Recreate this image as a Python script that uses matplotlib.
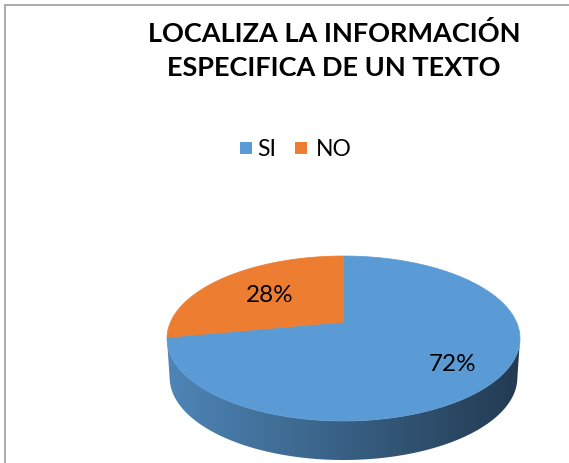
import numpy as np
import matplotlib
matplotlib.use('Agg')
import matplotlib.pyplot as plt
from matplotlib.patches import Polygon, Rectangle
from matplotlib.colors import to_rgb

# data
labels = ['SI', 'NO']
values = [72, 28]
colors = ['#5B9BD5', '#ED7D31']
title = 'LOCALIZA LA INFORMACIÓN\nESPECIFICA DE UN TEXTO'

W, H = 569, 463
fig = plt.figure(figsize=(W / 100, H / 100), dpi=100)
ax = fig.add_axes([0, 0, 1, 1])
ax.set_xlim(0, W)
ax.set_ylim(H, 0)
ax.axis('off')

# pie geometry (pixels) with a simple perspective
cx, cy, a, b = 343.5, 338.5, 176.5, 82.5
c = 0.2          # far-side shift of the centre
depth = 39


def proj_pt(t, r=1.0):
    u, v = r * np.cos(t), r * np.sin(t)
    k = 1 + c * v
    return cx + a * u * np.sqrt(1 - c * c) / k, cy - b * (v + c) / k


fr = np.array(values) / sum(values)
starts = 90 - 360 * np.concatenate([[0], np.cumsum(fr)[:-1]])
ends = starts - 360 * fr

# side walls (front half only)
for st, en, col in zip(starts, ends, colors):
    t = np.radians(np.linspace(st, en, 400))
    x, y = proj_pt(t)
    idx = np.where(y >= cy - 0.01)[0]
    if len(idx) < 2:
        continue
    runs = np.split(idx, np.where(np.diff(idx) > 1)[0] + 1)
    for r in runs:
        if len(r) < 2:
            continue
        xs, ys = x[r], y[r]
        xb = cx + (xs - cx) * 0.985
        pts = np.vstack([np.column_stack([xs, ys]),
                         np.column_stack([xb[::-1], ys[::-1] + depth])])
        poly = Polygon(pts, closed=True, facecolor='none', edgecolor='none')
        ax.add_patch(poly)
        base = np.array(to_rgb(col))
        shade = np.linspace(0.86, 0.38, 256)
        img = base[None, None, :] * shade[None, :, None]
        im = ax.imshow(img, extent=[xs.min(), xs.max(), ys.max() + depth, ys.min()],
                       aspect='auto', zorder=1, interpolation='bilinear')
        im.set_clip_path(poly)

# top faces
for st, en, col in zip(starts, ends, colors):
    t = np.radians(np.linspace(st, en, 300))
    x, y = proj_pt(t)
    vx, vy = proj_pt(0.0, 0.0)
    pts = np.vstack([[vx, vy], np.column_stack([x, y])])
    ax.add_patch(Polygon(pts, closed=True, facecolor=col, edgecolor=col,
                         linewidth=0.5, zorder=2))

# data labels
for st, en, v in zip(starts, ends, values):
    mid = np.radians((st + en) / 2)
    lx, ly = proj_pt(mid, 0.68)
    ax.text(lx + 10, ly + 5, '%d%%' % v, ha='center', va='center', fontsize=17.5,
            family='Lato', color='black', zorder=3)

# title
ax.text(334, 51, title, ha='center', va='center', fontsize=19.5,
        family='Lato', fontweight='bold', linespacing=1.5)

# legend
ax.add_patch(Rectangle((240, 142), 12, 12, facecolor=colors[0], edgecolor='none'))
ax.text(257, 149, labels[0], ha='left', va='center', fontsize=16.5, family='Lato')
ax.add_patch(Rectangle((295, 142), 12, 12, facecolor=colors[1], edgecolor='none'))
ax.text(316, 149, labels[1], ha='left', va='center', fontsize=16.5, family='Lato')

# chart border (top and left visible)
ax.plot([5, 5, W], [H, 5, 5], color='#a6a6a6', linewidth=1.3, zorder=4,
        solid_joinstyle='miter')

fig.savefig('out.png', dpi=100)
